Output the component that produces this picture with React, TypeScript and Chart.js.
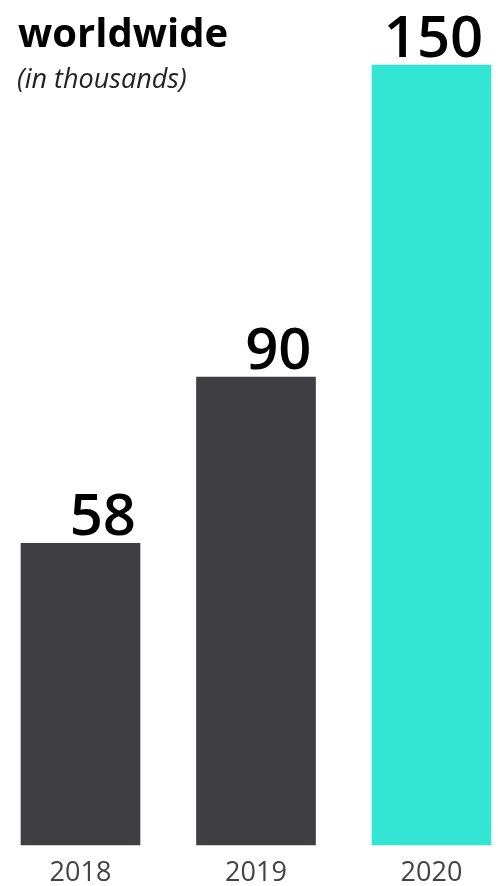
import React, { useEffect, useRef } from "react";
import { Chart, registerables } from "chart.js";

Chart.register(...registerables);

const years = ["2018", "2019", "2020"];
const values = [58, 90, 150];
const barColors = ["#3f3e43", "#3f3e43", "#32e6d3"];
const title = "worldwide";
const subtitle = "(in thousands)";

const FONT = "'Open Sans', 'Noto Sans', sans-serif";

const labelPlugin = {
  id: "barLabels",
  afterDatasetsDraw(chart: any) {
    const ctx = chart.ctx;
    const meta = chart.getDatasetMeta(0);
    ctx.save();
    ctx.fillStyle = "#000";
    ctx.font = `600 58px ${FONT}`;
    ctx.textBaseline = "alphabetic";
    meta.data.forEach((bar: any, i: number) => {
      const { x, y, width } = bar.getProps(["x", "y", "width"], true);
      const txt = String(values[i]);
      if (i === meta.data.length - 1) {
        ctx.textAlign = "center";
        ctx.fillText(txt, x + 2, y - 8);
      } else {
        ctx.textAlign = "right";
        ctx.fillText(txt, x + width / 2 - 4, y - 8);
      }
    });
    ctx.restore();
  },
  afterDraw(chart: any) {
    const ctx = chart.ctx;
    ctx.save();
    ctx.textAlign = "left";
    ctx.textBaseline = "alphabetic";
    ctx.fillStyle = "#000";
    ctx.font = `700 40px ${FONT}`;
    ctx.fillText(title, 18, 47);
    ctx.fillStyle = "#222";
    ctx.font = `italic 400 27px ${FONT}`;
    ctx.fillText(subtitle, 17, 88);
    ctx.restore();
  },
};

export default function App() {
  const ref = useRef<HTMLCanvasElement>(null);
  useEffect(() => {
    document.body.style.margin = "0";
    const chart = new Chart(ref.current as HTMLCanvasElement, {
      type: "bar",
      data: {
        labels: years,
        datasets: [
          {
            data: values,
            backgroundColor: barColors,
            barThickness: 119,
            clip: false as any,
          },
        ],
      },
      options: {
        animation: false,
        responsive: false,
        devicePixelRatio: 1,
        layout: { padding: { left: 80.5, right: 66.5, top: 65, bottom: -15.4 } },
        plugins: { legend: { display: false }, tooltip: { enabled: false } },
        scales: {
          x: {
            offset: false,
            grid: { display: false, drawTicks: false },
            border: { display: false },
            ticks: {
              color: "#444",
              font: { family: FONT, size: 27, lineHeight: 1.2 },
              padding: 12,
              maxRotation: 0,
              autoSkip: false,
            },
          },
          y: {
            display: false,
            min: 0,
            max: 150,
          },
        },
      },
      plugins: [labelPlugin],
    });
    return () => chart.destroy();
  }, []);
  return (
    <div style={{ position: "absolute", left: 0, top: 0, width: 498, height: 886 }}>
      <canvas ref={ref} width={498} height={886} />
    </div>
  );
}
